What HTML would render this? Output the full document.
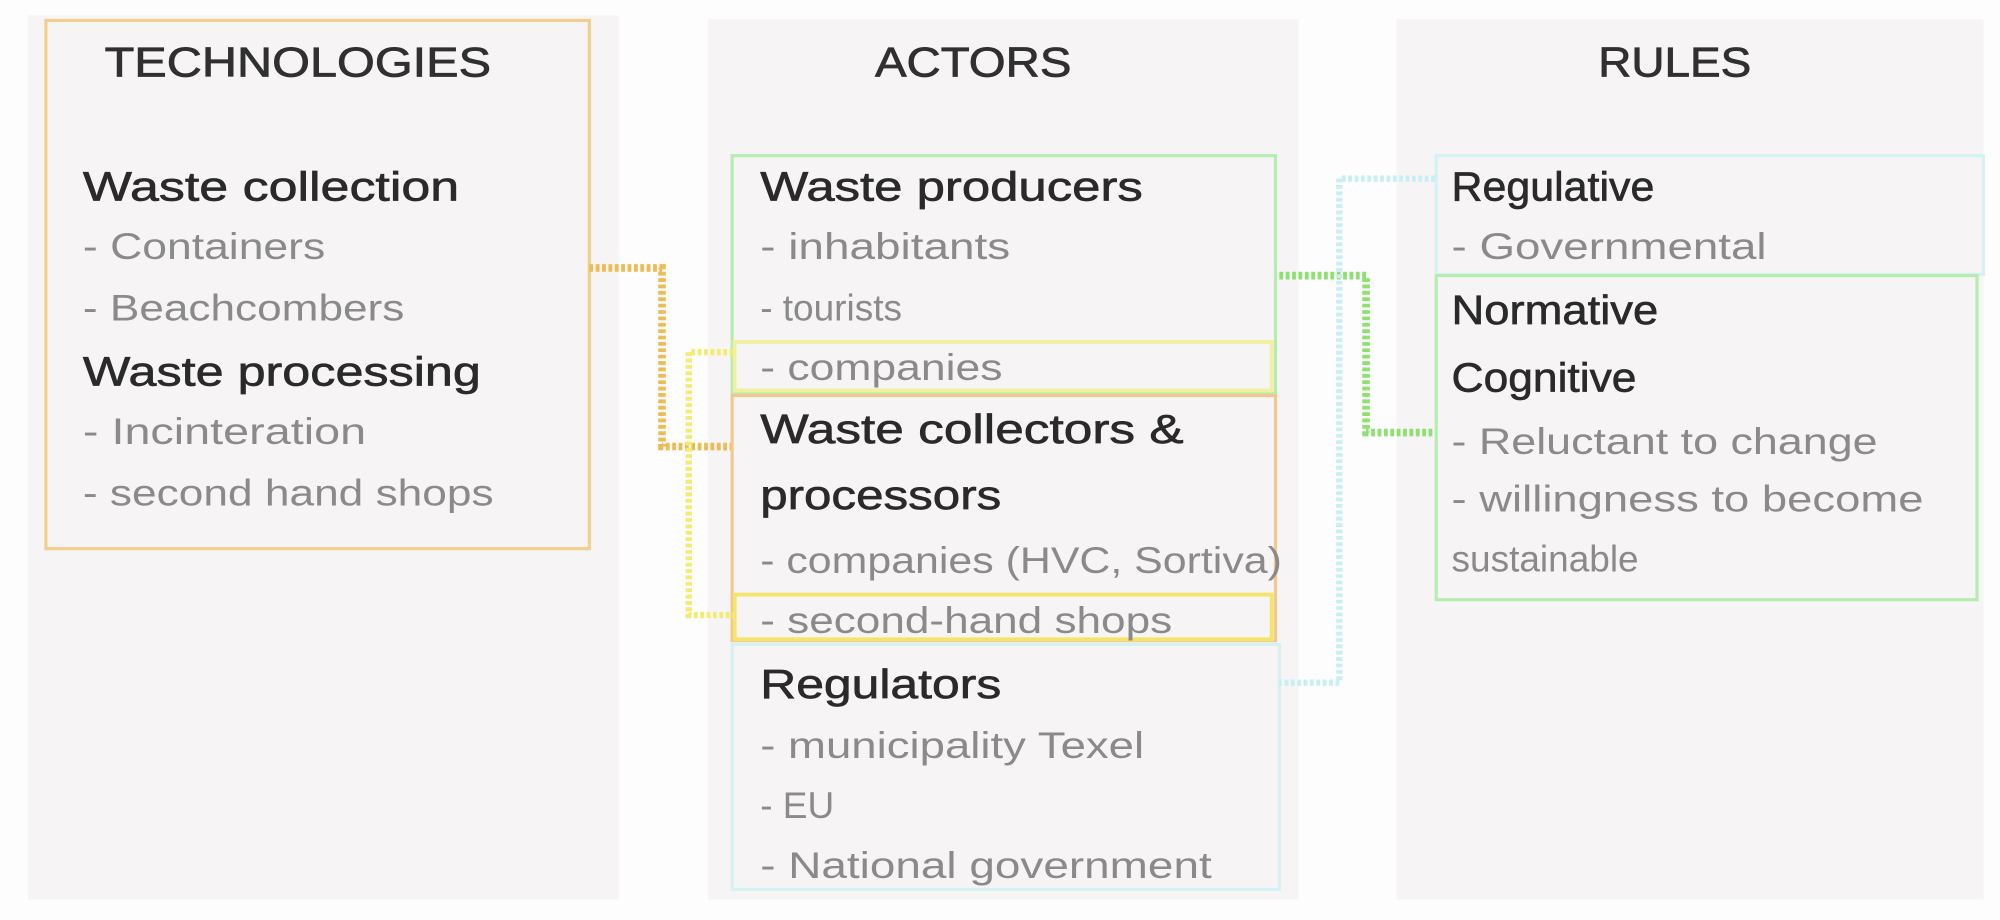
<!DOCTYPE html>
<html><head><meta charset="utf-8"><style>
html,body{margin:0;padding:0;background:#fdfdfd;}
svg{display:block;}
text{font-family:"Liberation Sans",sans-serif;}
.t{font-size:33px;fill:#303030;stroke:#303030;stroke-width:0.6;}
.h{font-size:32px;fill:#2a2a2a;stroke:#2a2a2a;stroke-width:0.5;}
.i{font-size:29px;fill:#8a8a8a;}
</style></head><body>
<svg width="2000" height="920" viewBox="0 0 1568 721" preserveAspectRatio="none" xmlns="http://www.w3.org/2000/svg">
<rect x="0" y="0" width="1568" height="721" fill="#fdfdfd"/>
<rect x="22" y="12" width="463" height="693" fill="#f7f4f5"/>
<rect x="555" y="15" width="463" height="690" fill="#f7f4f5"/>
<rect x="1095" y="15" width="460" height="690" fill="#f7f4f5"/>
<rect x="36" y="16" width="426" height="414" fill="none" stroke="#f2cf8a" stroke-width="2.5"/>
<text class="t" x="82" y="60" textLength="303" lengthAdjust="spacingAndGlyphs">TECHNOLOGIES</text>
<text class="t" x="686" y="60" textLength="154" lengthAdjust="spacingAndGlyphs">ACTORS</text>
<text class="t" x="1253" y="60" textLength="120" lengthAdjust="spacingAndGlyphs">RULES</text>
<text class="h" x="65" y="157" textLength="295" lengthAdjust="spacingAndGlyphs">Waste collection</text>
<text class="i" x="65" y="203" textLength="190" lengthAdjust="spacingAndGlyphs">- Containers</text>
<text class="i" x="65" y="251" textLength="252" lengthAdjust="spacingAndGlyphs">- Beachcombers</text>
<text class="h" x="65" y="302" textLength="312" lengthAdjust="spacingAndGlyphs">Waste processing</text>
<text class="i" x="65" y="348" textLength="222" lengthAdjust="spacingAndGlyphs">- Incinteration</text>
<text class="i" x="65" y="396" textLength="322" lengthAdjust="spacingAndGlyphs">- second hand shops</text>
<rect x="574" y="122" width="426" height="186" fill="none" stroke="#b6ecb0" stroke-width="2.5"/>
<rect x="576" y="268" width="421" height="38" fill="none" stroke="#f2f0a0" stroke-width="3"/>
<rect x="574" y="310" width="426" height="192" fill="none" stroke="#f2c890" stroke-width="2.5"/>
<rect x="576" y="466" width="421" height="35" fill="none" stroke="#f5e46a" stroke-width="3"/>
<rect x="574" y="505" width="429" height="192" fill="none" stroke="#d4f2f4" stroke-width="2.5"/>
<text class="h" x="596" y="157" textLength="300" lengthAdjust="spacingAndGlyphs">Waste producers</text>
<text class="i" x="596" y="203" textLength="196" lengthAdjust="spacingAndGlyphs">- inhabitants</text>
<text class="i" x="596" y="251">- tourists</text>
<text class="i" x="596" y="298" textLength="190" lengthAdjust="spacingAndGlyphs">- companies</text>
<text class="h" x="596" y="347" textLength="332" lengthAdjust="spacingAndGlyphs">Waste collectors &amp;</text>
<text class="h" x="596" y="399" textLength="189" lengthAdjust="spacingAndGlyphs">processors</text>
<text class="i" x="596" y="449" textLength="409" lengthAdjust="spacingAndGlyphs">- companies (HVC, Sortiva)</text>
<text class="i" x="596" y="496" textLength="323" lengthAdjust="spacingAndGlyphs">- second-hand shops</text>
<text class="h" x="596" y="547" textLength="189" lengthAdjust="spacingAndGlyphs">Regulators</text>
<text class="i" x="596" y="594" textLength="301" lengthAdjust="spacingAndGlyphs">- municipality Texel</text>
<text class="i" x="596" y="641">- EU</text>
<text class="i" x="596" y="688" textLength="354" lengthAdjust="spacingAndGlyphs">- National government</text>
<rect x="1126" y="122" width="429" height="93" fill="none" stroke="#d4f2f4" stroke-width="2.5"/>
<rect x="1126" y="216" width="424" height="254" fill="none" stroke="#b6ecb0" stroke-width="2.5"/>
<text class="h" x="1138" y="157" textLength="159" lengthAdjust="spacingAndGlyphs">Regulative</text>
<text class="i" x="1138" y="203" textLength="247" lengthAdjust="spacingAndGlyphs">- Governmental</text>
<text class="h" x="1138" y="254" textLength="162" lengthAdjust="spacingAndGlyphs">Normative</text>
<text class="h" x="1138" y="307" textLength="145" lengthAdjust="spacingAndGlyphs">Cognitive</text>
<text class="i" x="1138" y="356" textLength="334" lengthAdjust="spacingAndGlyphs">- Reluctant to change</text>
<text class="i" x="1138" y="401" textLength="370" lengthAdjust="spacingAndGlyphs">- willingness to become</text>
<text class="i" x="1138" y="448">sustainable</text>
<g fill="none" stroke-dasharray="3 2" stroke-width="6">
<polyline points="462,210 519,210 519,350 573,350" stroke="#eebb55"/>
<polyline points="575,276 540,276 540,482 575,482" stroke="#f2ec70" stroke-width="5"/>
<polyline points="1003,216 1071,216 1071,339 1125,339" stroke="#8ee070"/>
<polyline points="1125,140 1050,140 1050,535 1003,535" stroke="#c8f0f2" stroke-width="5"/>
</g>
</svg>
</body></html>
